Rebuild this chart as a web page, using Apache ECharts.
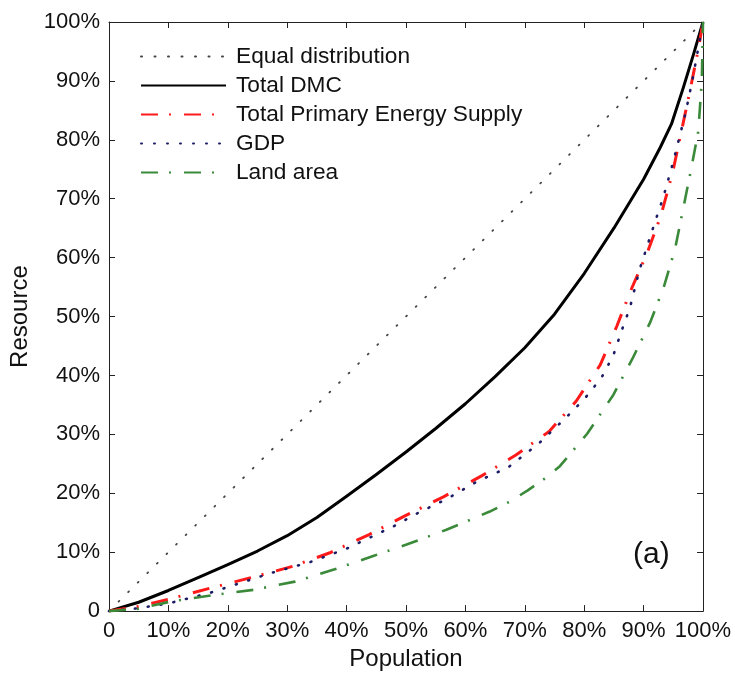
<!DOCTYPE html>
<html>
<head>
<meta charset="utf-8">
<script src="https://cdn.jsdelivr.net/npm/echarts@6/dist/echarts.min.js"></script>
<style>
html,body{margin:0;padding:0;background:#fff;}
#chart{width:735px;height:676px;}
</style>
</head>
<body>
<div id="chart"></div>
<script>
// Tick labels (percent of population / resource)
const tickValues = [0,10,20,30,40,50,60,70,80,90,100];
const tickLabels = ['0','10%','20%','30%','40%','50%','60%','70%','80%','90%','100%'];

const seriesNames = ['Equal distribution','Total DMC','Total Primary Energy Supply','GDP','Land area'];

// Equal distribution
const equalX = [0, 100];
const equalY = [0, 100];

// Total DMC
const dmcX = [0,5,10,15,20,25,30,35,40,45,50,55,60,65,70,75,80,85,90,92.8,94.7,96.7,98.4,100];
const dmcY = [0,1.5,3.5,5.7,7.9,10.2,12.8,15.9,19.5,23.2,27.0,31.0,35.2,39.8,44.7,50.4,57.3,65.0,73.3,78.7,82.7,88.9,94.5,100];

// Total Primary Energy Supply
const tpesX = [0,5,10,17.4,24,30.9,37.2,43.8,49.9,56.3,62.8,68.5,74.1,78.7,82.7,85.5,88,90.6,92.9,94.9,96.4,97.8,99.2,100];
const tpesY = [0,0.8,2.0,4.0,5.7,7.6,9.9,13.0,16.2,19.4,23.0,26.5,30.5,35.7,41.8,48.4,54.8,60.8,67.1,74.5,81.6,88.3,95.3,100];

// GDP
const gdpX = [0,5,10,13.1,17,27.4,33.8,40,47.9,51.7,57,62,67.2,72.3,77,80.1,82.9,84.9,86.3,87.7,89.3,91.9,93.3,95,97.1,98.4,100];
const gdpY = [0,0.5,1.3,2.1,3.1,6.5,8.3,10.6,14.4,16.5,19.1,22,24.4,28.4,32.9,36.1,39.6,43.4,47.6,51.5,57.9,66,70.2,76.3,84.7,91.1,100];

// Land area
const landX = [0,5,10.3,17.4,24.3,31.3,38,44.6,50.1,56.8,64.1,67.5,70.5,73.5,75.9,80.5,84.9,88.1,91.1,93.4,95.3,96.7,98,99.2,99.8,100];
const landY = [0,0.4,1.6,2.7,3.6,5.0,7.1,9.4,11.3,13.8,16.9,18.6,20.5,22.6,24.6,30.1,36.7,42.8,49,55,61.5,68.5,75,81.4,90,100];

function pairs(xs, ys){ return xs.map((x,i)=>[x, ys[i]]); }
function fmt(v){ const i = tickValues.indexOf(v); return i >= 0 ? tickLabels[i] : ''; }

const FONT = 'Liberation Sans, Arial, Helvetica, sans-serif';
const axisCol = '#222';

const chart = echarts.init(document.getElementById('chart'), null, {renderer:'canvas'});

const baseAxis = {
  type:'value', min:0, max:100, interval:10,
  axisLine:{show:true, onZero:false, lineStyle:{color:axisCol, width:1}},
  axisTick:{show:true, inside:true, length:6, lineStyle:{color:axisCol, width:1}},
  splitLine:{show:false}
};

chart.setOption({
  animation:false,
  backgroundColor:'#fff',
  grid:{left:109, right:32, top:22, bottom:57, containLabel:false},
  xAxis:[
    Object.assign({}, baseAxis, {
      position:'bottom',
      axisLabel:{formatter:fmt, fontFamily:FONT, fontSize:22, color:'#111', margin:9},
      name:'Population', nameLocation:'middle', nameGap:31,
      nameTextStyle:{fontFamily:FONT, fontSize:24, color:'#111'}
    }),
    Object.assign({}, baseAxis, {position:'top', axisLabel:{show:false}})
  ],
  yAxis:[
    Object.assign({}, baseAxis, {
      position:'left',
      axisLabel:{formatter:fmt, fontFamily:FONT, fontSize:22, color:'#111', margin:9},
      name:'Resource', nameLocation:'middle', nameGap:73,
      nameTextStyle:{fontFamily:FONT, fontSize:24, color:'#111'}
    }),
    Object.assign({}, baseAxis, {position:'right', axisLabel:{show:false}})
  ],
  legend:{
    orient:'vertical', left:140, top:45, padding:0,
    itemWidth:85, itemHeight:14, itemGap:6,
    itemStyle:{opacity:0},
    textStyle:{fontFamily:FONT, fontSize:22.7, color:'#111', lineHeight:22, padding:[0,0,0,5]},
    data:seriesNames
  },
  series:[
    {
      name:seriesNames[0], type:'line', data:pairs(equalX, equalY), symbol:'none',
      lineStyle:{color:'#444', width:1.8, type:[1,12.5], cap:'round'},
      itemStyle:{color:'#444'}
    },
    {
      name:seriesNames[1], type:'line', data:pairs(dmcX, dmcY), symbol:'none',
      lineStyle:{color:'#000', width:3, type:'solid', join:'round'},
      itemStyle:{color:'#000'}
    },
    {
      name:seriesNames[2], type:'line', data:pairs(tpesX, tpesY), symbol:'none',
      lineStyle:{color:'#ff1a1a', width:3, type:[17,11,2,13]},
      itemStyle:{color:'#ff1a1a'}
    },
    {
      name:seriesNames[3], type:'line', data:pairs(gdpX, gdpY), symbol:'none',
      lineStyle:{color:'#1c1c66', width:2.6, type:[1,12], cap:'round'},
      itemStyle:{color:'#1c1c66'}
    },
    {
      name:seriesNames[4], type:'line', data:pairs(landX, landY), symbol:'none',
      lineStyle:{color:'#3a8a3a', width:2.6, type:[17,11,2,13]},
      itemStyle:{color:'#3a8a3a'}
    }
  ],
  graphic:[
    {type:'text', left:633, top:540, style:{text:'(a)', fontFamily:FONT, fontSize:30, fill:'#111'}}
  ]
});
</script>
</body>
</html>
